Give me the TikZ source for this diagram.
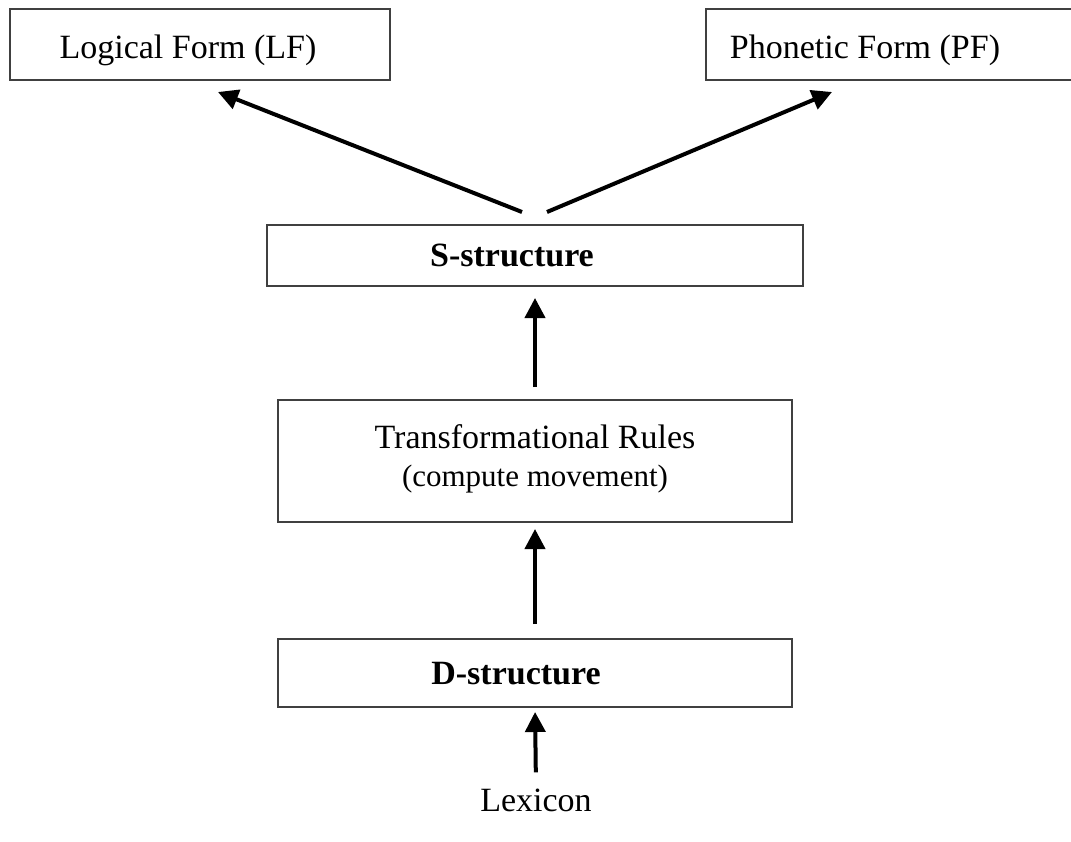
\documentclass[tikz,border=0pt]{standalone}
\usepackage{fontspec}
\setmainfont{Liberation Serif}
\usetikzlibrary{arrows.meta,calc}
\begin{document}
\begin{tikzpicture}[x=1pt,y=-1pt,
  box/.style={draw=black!75, line width=2pt, inner sep=0pt},
  txt/.style={inner sep=0pt, anchor=base, font=\fontsize{34}{40}\selectfont},
  small/.style={inner sep=0pt, anchor=base, font=\fontsize{31}{36}\selectfont},
  conn/.style={line width=4pt, -{Triangle[length=20pt,width=20pt]}}]
\useasboundingbox (0,0) rectangle (1071,841);

% boxes
\node[box, minimum width=380pt, minimum height=71pt] (lf) at (200,44.5) {};
\node[box, minimum width=380pt, minimum height=71pt] (pf) at (896,44.5) {};
\node[box, minimum width=536pt, minimum height=61pt] (s) at (535,255.5) {};
\node[box, minimum width=514pt, minimum height=122pt] (t) at (535,461) {};
\node[box, minimum width=514pt, minimum height=68pt] (d) at (535,673) {};

% texts
\node[txt] (lft) at (188,58) {Logical Form (LF)};
\node[txt] (pft) at (865,58) {Phonetic Form (PF)};
\node[txt, font=\fontsize{34}{40}\selectfont\bfseries] (st) at (512,266) {S-structure};
\node[txt] (tt1) at (535,448) {Transformational Rules};
\node[small] (tt2) at (535,486) {(compute movement)};
\node[txt, font=\fontsize{34}{40}\selectfont\bfseries] (dt) at (516,684) {D-structure};
\node[txt] (lex) at (536,811) {Lexicon};

% free ends of the two slanted arrows
\coordinate (lfin) at (218,92);
\coordinate (pfin) at (832,92);
\coordinate (sl) at (522,212);
\coordinate (sr) at (547,212);
\draw[conn] (sl) -- (lfin);
\draw[conn] (sr) -- (pfin);

% vertical arrows
\draw[conn, shorten <=12pt, shorten >=11pt] (t.north) -- (s.south);
\draw[conn, shorten <=14pt, shorten >=6pt] (d.north) -- (t.south);
\draw[conn, shorten <=16pt, shorten >=4pt] (lex.north) -- (d.south);
\end{tikzpicture}
\end{document}
